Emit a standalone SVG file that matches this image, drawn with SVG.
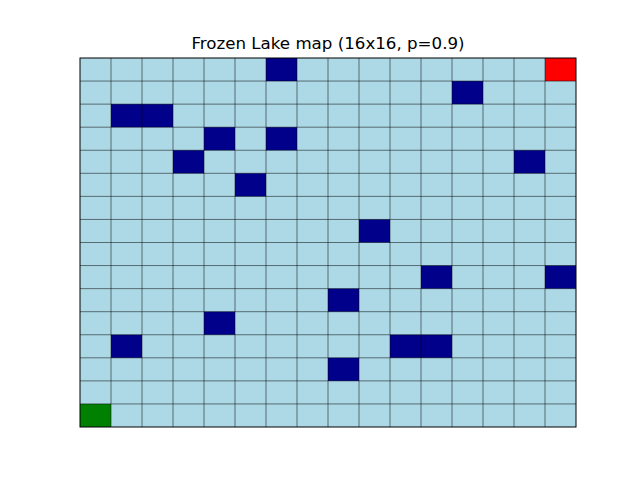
<svg xmlns="http://www.w3.org/2000/svg" width="640" height="480" viewBox="0 0 640 480">
<style>
.ice{fill:#add8e6}
.hole{fill:#00008b}
.grid{stroke:#000;stroke-opacity:0.5;stroke-width:1;fill:none}
.spine{stroke:#000;stroke-width:1;fill:none}
.title{font-family:"DejaVu Sans",sans-serif;font-size:16.67px;fill:#000}
</style>
<rect width="640" height="480" fill="#fff"/>
<text class="title" x="328" y="49" text-anchor="middle">Frozen Lake map (16x16, p=0.9)</text>
<g id="board">
<rect class="ice" x="80" y="58" width="496" height="369"/>
<g id="holes" transform="translate(80,58) scale(31,23.0625)">
<rect class="hole" x="6" y="0" width="1" height="1"/>
<rect class="hole" x="12" y="1" width="1" height="1"/>
<rect class="hole" x="1" y="2" width="2" height="1"/>
<rect class="hole" x="4" y="3" width="1" height="1"/>
<rect class="hole" x="6" y="3" width="1" height="1"/>
<rect class="hole" x="3" y="4" width="1" height="1"/>
<rect class="hole" x="14" y="4" width="1" height="1"/>
<rect class="hole" x="5" y="5" width="1" height="1"/>
<rect class="hole" x="9" y="7" width="1" height="1"/>
<rect class="hole" x="11" y="9" width="1" height="1"/>
<rect class="hole" x="15" y="9" width="1" height="1"/>
<rect class="hole" x="8" y="10" width="1" height="1"/>
<rect class="hole" x="4" y="11" width="1" height="1"/>
<rect class="hole" x="1" y="12" width="1" height="1"/>
<rect class="hole" x="10" y="12" width="2" height="1"/>
<rect class="hole" x="8" y="13" width="1" height="1"/>
<rect id="goal" x="15" y="0" width="1" height="1" fill="#ff0000"/>
<rect id="start" x="0" y="15" width="1" height="1" fill="#008000"/>
</g>
</g>
<g id="gridlines">
<path class="grid" d="M111,58V427M142,58V427M173,58V427M204,58V427M235,58V427M266,58V427M297,58V427M328,58V427M359,58V427M390,58V427M421,58V427M452,58V427M483,58V427M514,58V427M545,58V427
M80,81.06H576M80,104.13H576M80,127.19H576M80,150.25H576M80,173.31H576M80,196.38H576M80,219.44H576M80,242.5H576M80,265.56H576M80,288.63H576M80,311.69H576M80,334.75H576M80,357.81H576M80,380.88H576M80,403.94H576"/>
</g>
<rect class="spine" x="80" y="58" width="496" height="369"/>
</svg>
